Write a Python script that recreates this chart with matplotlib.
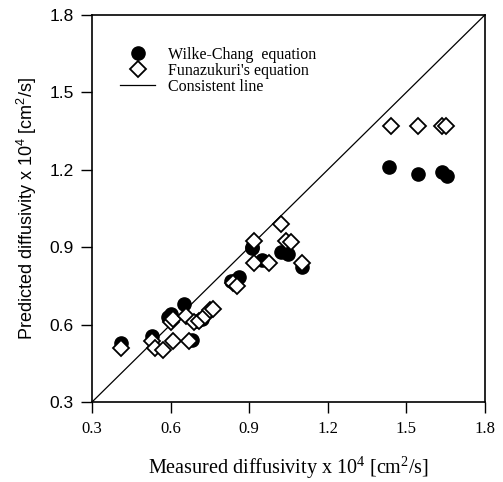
import matplotlib
matplotlib.use("Agg")
import matplotlib.pyplot as plt

# Wilke-Chang equation (measured, predicted)
wc_x = [0.41, 0.53, 0.59, 0.60, 0.65, 0.68, 0.70, 0.72, 0.83, 0.86, 0.91, 0.91,
        0.95, 1.02, 1.05, 1.10, 1.435, 1.545, 1.635, 1.655]
wc_y = [0.53, 0.555, 0.63, 0.64, 0.68, 0.54, 0.615, 0.62, 0.77, 0.785, 0.895, 0.90,
        0.85, 0.88, 0.875, 0.825, 1.21, 1.185, 1.19, 1.175]

# Funazukuri's equation (measured, predicted)
fz_x = [0.41, 0.53, 0.54, 0.57, 0.61, 0.67, 0.60, 0.61, 0.66, 0.69, 0.71, 0.73,
        0.75, 0.76, 0.84, 0.855, 0.92, 0.92, 0.975, 1.02, 1.04, 1.06, 1.10,
        1.44, 1.545, 1.635, 1.65]
fz_y = [0.51, 0.535, 0.51, 0.50, 0.535, 0.535, 0.61, 0.62, 0.635, 0.61, 0.615, 0.635,
        0.655, 0.66, 0.76, 0.75, 0.925, 0.84, 0.84, 0.99, 0.925, 0.92, 0.84,
        1.37, 1.37, 1.37, 1.37]

line_x = [0.3, 1.8]
ticks = [0.3, 0.6, 0.9, 1.2, 1.5, 1.8]
tick_labels = ["0.3", "0.6", "0.9", "1.2", "1.5", "1.8"]

fig = plt.figure(figsize=(5.03, 4.82), dpi=100)
ax = fig.add_axes([0.183, 0.166, 0.781, 0.803])

ax.plot(wc_x, wc_y, 'o', color='black', markersize=9.5, label='Wilke-Chang  equation', zorder=3)
ax.plot(fz_x, fz_y, 'D', markerfacecolor='white', markeredgecolor='black', markeredgewidth=1.3,
        markersize=8.5, label="Funazukuri's equation", zorder=4)
ax.plot(line_x, line_x, '-', color='black', linewidth=0.9, label='Consistent line', zorder=2)

ax.set_xlim(0.3, 1.8)
ax.set_ylim(0.3, 1.8)
ax.set_xticks(ticks)
ax.set_yticks(ticks)
ax.set_xticklabels(tick_labels, fontfamily='Liberation Serif', fontsize=12)
ax.set_yticklabels(tick_labels, fontfamily='Liberation Sans', fontsize=12.5)
ax.tick_params(direction='out', length=8, width=1)
ax.tick_params(axis='x', pad=6)
ax.tick_params(axis='y', pad=5)
for s in ax.spines.values():
    s.set_linewidth(1.2)

ax.set_xlabel(r"Measured diffusivity x 10$^{\mathregular{4}}$ [cm$^{\mathregular{2}}$/s]",
              fontfamily='Liberation Serif', fontsize=14.5, labelpad=12)
ax.set_ylabel(r"Predicted diffusivity x 10$^{\mathregular{4}}$ [cm$^{\mathregular{2}}$/s]",
              fontfamily='Liberation Sans', fontsize=13, labelpad=8)

leg = ax.legend(loc='upper left', bbox_to_anchor=(0.035, 0.955), frameon=False,
                prop={'family': 'Liberation Serif', 'size': 11.5}, handlelength=2.2,
                handletextpad=0.8, labelspacing=0.0)

fig.savefig("out.png", dpi=100)
